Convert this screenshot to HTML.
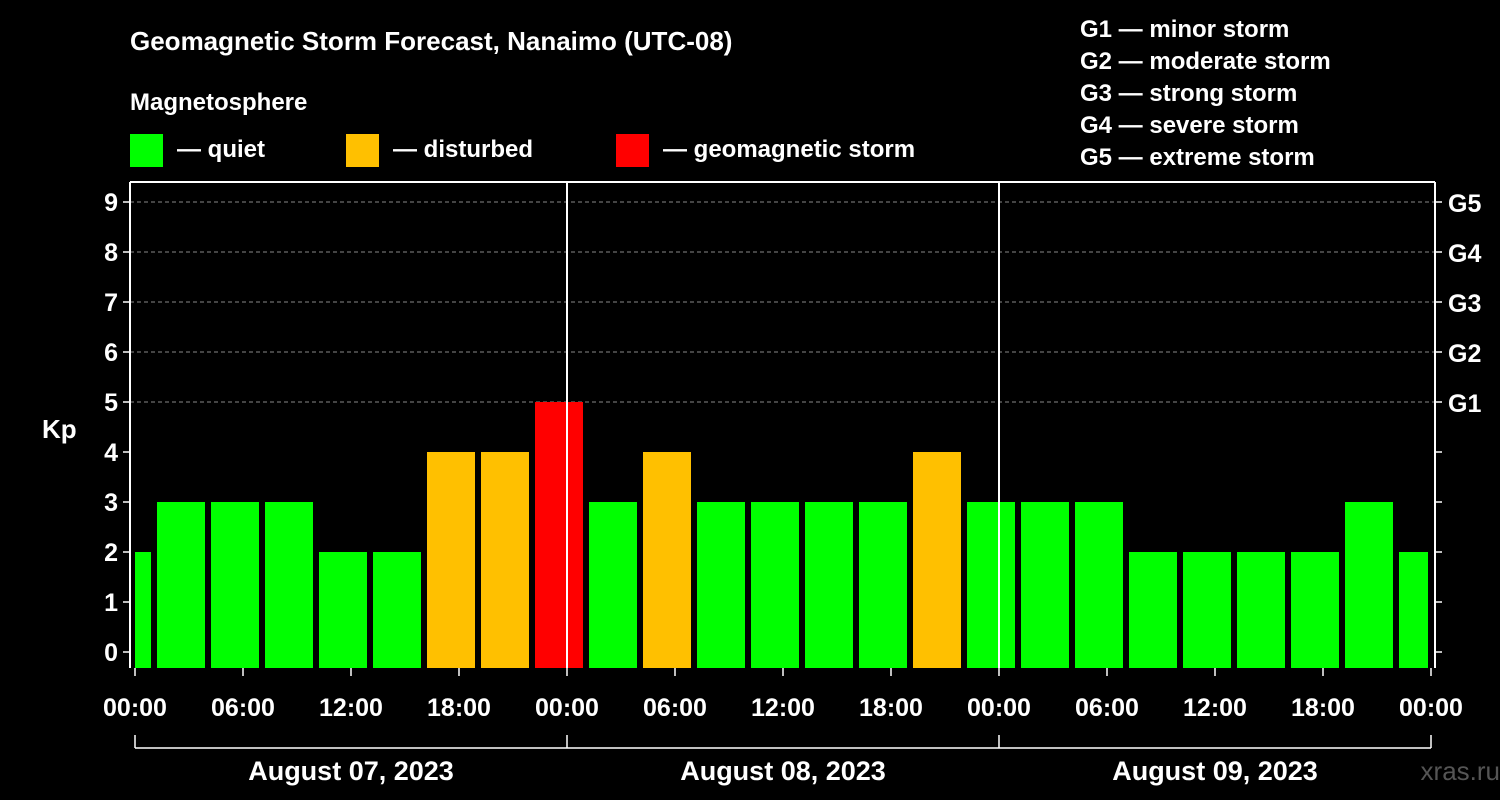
<!DOCTYPE html>
<html><head><meta charset="utf-8"><style>
body{margin:0;background:#000;}
svg{display:block;font-family:"Liberation Sans",Arial,sans-serif;font-weight:bold;}
</style></head><body>
<svg id="chart" width="1500" height="800">
<rect width="1500" height="800" fill="#000"/>
<text x="130" y="50" fill="#fff" font-size="26">Geomagnetic Storm Forecast, Nanaimo (UTC-08)</text>
<text x="130" y="110" fill="#fff" font-size="24">Magnetosphere</text>
<g><rect x="130" y="134" width="33" height="33" fill="#00ff00"/><text x="177" y="157" fill="#fff" font-size="24">— quiet</text></g>
<g><rect x="346" y="134" width="33" height="33" fill="#ffc000"/><text x="393" y="157" fill="#fff" font-size="24">— disturbed</text></g>
<g><rect x="616" y="134" width="33" height="33" fill="#ff0000"/><text x="663" y="157" fill="#fff" font-size="24">— geomagnetic storm</text></g>
<g fill="#fff" font-size="24">
<text x="1080" y="37">G1 — minor storm</text>
<text x="1080" y="69">G2 — moderate storm</text>
<text x="1080" y="101">G3 — strong storm</text>
<text x="1080" y="133">G4 — severe storm</text>
<text x="1080" y="165">G5 — extreme storm</text>
</g>
<text x="42" y="438" fill="#fff" font-size="26">Kp</text>
<text x="1500" y="780" fill="#555" font-size="26" text-anchor="end" font-weight="normal">xras.ru</text>
<g id="grid"></g><g id="bars"></g><g id="axes"></g>
</svg>
<script>
const kpValues=[2,3,3,3,2,2,4,4,5,3,4,3,3,3,3,4,3,3,3,2,2,2,2,3,2];
const yTicks=[0,1,2,3,4,5,6,7,8,9];
const gLabels=["G1","G2","G3","G4","G5"];
const xTickLabels=["00:00","06:00","12:00","18:00","00:00","06:00","12:00","18:00","00:00","06:00","12:00","18:00","00:00"];
const dayLabels=["August 07, 2023","August 08, 2023","August 09, 2023"];
const NS="http://www.w3.org/2000/svg";
const X0=135,HOUR=18,PL=130,PR=1435,PT=182,PB=668;
const yS=v=>652-50*v;
const xS=h=>X0+h*HOUR;
function mk(tag,attrs,parent,txt){const e=document.createElementNS(NS,tag);for(const k in attrs)e.setAttribute(k,attrs[k]);if(txt!==undefined)e.textContent=txt;parent.appendChild(e);return e;}
const grid=document.getElementById('grid'),bars=document.getElementById('bars'),axes=document.getElementById('axes');
[5,6,7,8,9].forEach(v=>{const l=mk('line',{x1:PL,x2:PR,y1:yS(v),y2:yS(v),stroke:'#888','stroke-dasharray':'4,3','stroke-width':1},grid);

});
function col(v){return v>=5?'#ff0000':(v>=4?'#ffc000':'#00ff00');}
kpValues.forEach((v,i)=>{const c=xS(3*i)-8;let x1=c-24,x2=c+24;x1=Math.max(x1,X0);x2=Math.min(x2,1428);
const r=mk('rect',{x:x1,y:yS(v),width:x2-x1,height:PB-yS(v),fill:col(v)},bars);

});
// frame
const fr=mk('path',{d:`M${PL},${PT}V${PB}M${PR},${PT}V${PB}M${PL},${PT}H${PR}`,stroke:'#fff','stroke-width':2,fill:'none'},axes);


[24,48].forEach(h=>{const l=mk('line',{x1:xS(h),x2:xS(h),y1:PT,y2:PB,stroke:'#fff','stroke-width':2},axes);

});
yTicks.forEach(v=>{mk('line',{x1:PL-7,x2:PL,y1:yS(v),y2:yS(v),stroke:'#fff','stroke-width':1.5},axes);
mk('line',{x1:PR,x2:PR+7,y1:yS(v),y2:yS(v),stroke:'#fff','stroke-width':1.5},axes);
const t=mk('text',{x:118,y:yS(v)+9,fill:'#fff','font-size':25,'text-anchor':'end'},axes,String(v));

});
gLabels.forEach((g,i)=>{const t=mk('text',{x:1448,y:yS(5+i)+10,fill:'#fff','font-size':25},axes,g);

});
xTickLabels.forEach((s,i)=>{const x=xS(6*i);mk('line',{x1:x,x2:x,y1:PB,y2:PB+8,stroke:'#fff','stroke-width':1.5},axes);
const t=mk('text',{x:x,y:716,fill:'#fff','font-size':25,'text-anchor':'middle'},axes,s);

});
mk('line',{x1:xS(0),x2:xS(72),y1:748,y2:748,stroke:'#fff','stroke-width':1.5},axes);
[0,24,48,72].forEach(h=>mk('line',{x1:xS(h),x2:xS(h),y1:735,y2:748,stroke:'#fff','stroke-width':1.5},axes));
dayLabels.forEach((d,i)=>{const t=mk('text',{x:xS(24*i+12),y:780,fill:'#fff','font-size':27,'text-anchor':'middle'},axes,d);

});
</script>
</body></html>
